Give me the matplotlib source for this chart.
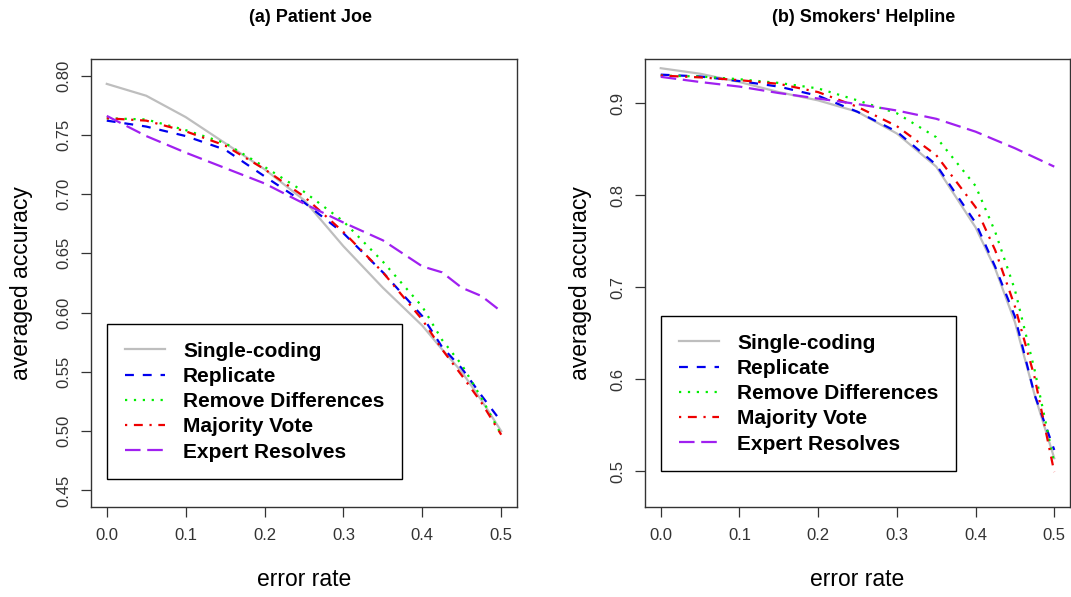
import matplotlib
matplotlib.use("Agg")
import matplotlib.pyplot as plt

plt.rcParams['font.family'] = ['Liberation Sans', 'DejaVu Sans']

error_rate = [0.0, 0.05, 0.10, 0.15, 0.20, 0.25, 0.30, 0.35, 0.40, 0.425, 0.45, 0.475, 0.50]
series_names = ["Single-coding", "Replicate", "Remove Differences", "Majority Vote", "Expert Resolves"]

# (a) Patient Joe
joe_single = [0.793, 0.783, 0.765, 0.743, 0.721, 0.695, 0.656, 0.621, 0.589, 0.569, 0.550, 0.526, 0.500]
joe_replicate = [0.762, 0.757, 0.749, 0.7375, 0.715, 0.693, 0.667, 0.634, 0.597, 0.571, 0.553, 0.530, 0.508]
joe_remove = [0.764, 0.763, 0.754, 0.743, 0.723, 0.702, 0.677, 0.643, 0.605, 0.577, 0.556, 0.528, 0.497]
joe_majority = [0.764, 0.762, 0.753, 0.741, 0.721, 0.698, 0.668, 0.634, 0.594, 0.569, 0.547, 0.524, 0.497]
joe_expert = [0.766, 0.749, 0.735, 0.722, 0.709, 0.692, 0.676, 0.661, 0.639, 0.634, 0.621, 0.614, 0.601]

# (b) Smokers' Helpline
smk_single = [0.938, 0.932, 0.923, 0.912, 0.903, 0.8906, 0.867, 0.831, 0.765, 0.720, 0.662, 0.583, 0.514]
smk_replicate = [0.931, 0.929, 0.924, 0.918, 0.908, 0.8906, 0.869, 0.833, 0.770, 0.722, 0.668, 0.583, 0.523]
smk_remove = [0.930, 0.929, 0.926, 0.922, 0.916, 0.903, 0.889, 0.863, 0.810, 0.760, 0.697, 0.610, 0.509]
smk_majority = [0.930, 0.928, 0.925, 0.921, 0.912, 0.896, 0.875, 0.8435, 0.787, 0.740, 0.679, 0.602, 0.499]
smk_expert = [0.9286, 0.923, 0.918, 0.911, 0.905, 0.899, 0.892, 0.883, 0.869, 0.860, 0.851, 0.841, 0.831]

titles = ["(a) Patient Joe", "(b) Smokers' Helpline"]
x_ticks = [0.0, 0.1, 0.2, 0.3, 0.4, 0.5]
x_ticklabels = ["0.0", "0.1", "0.2", "0.3", "0.4", "0.5"]
joe_yticks = [0.45, 0.50, 0.55, 0.60, 0.65, 0.70, 0.75, 0.80]
joe_yticklabels = ["0.45", "0.50", "0.55", "0.60", "0.65", "0.70", "0.75", "0.80"]
smk_yticks = [0.5, 0.6, 0.7, 0.8, 0.9]
smk_yticklabels = ["0.5", "0.6", "0.7", "0.8", "0.9"]

colors = ["#BEBEBE", "#0000EE", "#00EE00", "#EE0000", "#A020F0"]
dashes = [None, (4, 4), (1, 3), (1, 3, 4, 3), (7, 3)]

W, H = 1071, 597
fig = plt.figure(figsize=(W / 100, H / 100), dpi=100)

panels = [
    dict(left=91, right=517, data=[joe_single, joe_replicate, joe_remove, joe_majority, joe_expert],
         ylim=(0.436, 0.814), yticks=joe_yticks, yticklabels=joe_yticklabels,
         legend=(107, 324), ylabel_x=22),
    dict(left=645, right=1070, data=[smk_single, smk_replicate, smk_remove, smk_majority, smk_expert],
         ylim=(0.461, 0.948), yticks=smk_yticks, yticklabels=smk_yticklabels,
         legend=(661, 316), ylabel_x=580),
]
top, bottom = 59, 507

for i, p in enumerate(panels):
    ax = fig.add_axes([p['left'] / W, 1 - bottom / H, (p['right'] - p['left']) / W, (bottom - top) / H])
    for name, ys, c, d in zip(series_names, p['data'], colors, dashes):
        line, = ax.plot(error_rate, ys, color=c, lw=1.6, label=name)
        if d is not None:
            line.set_dashes(d)
    ax.set_xlim(-0.02, 0.52)
    ax.set_ylim(*p['ylim'])
    ax.set_xticks(x_ticks)
    ax.set_xticklabels(x_ticklabels)
    ax.set_yticks(p['yticks'])
    ax.set_yticklabels(p['yticklabels'], rotation=90, va='center')
    ax.tick_params(axis='both', direction='out', length=7, width=0.9, colors='#333333',
                   labelsize=12, labelcolor='#333333')
    ax.tick_params(axis='x', pad=8)
    ax.tick_params(axis='y', pad=7)
    for s in ax.spines.values():
        s.set_color('#333333')
        s.set_linewidth(1.0)
    ax.set_xlabel("error rate", fontsize=16.5)
    ax.xaxis.set_label_coords(0.5, -(580 - bottom) / (bottom - top))
    ax.xaxis.label.set_va('center')
    ax.set_ylabel("averaged accuracy", fontsize=16.5)
    ax.yaxis.set_label_coords((p['ylabel_x'] - p['left']) / (p['right'] - p['left']), 0.5)
    ax.yaxis.label.set_va('center')
    lx, ly = p['legend']
    leg = ax.legend(loc='upper left', bbox_to_anchor=(lx / W, 1 - ly / H),
                    bbox_transform=fig.transFigure, borderaxespad=0,
                    frameon=True, fancybox=False, edgecolor='black', framealpha=1,
                    prop=dict(weight='bold', size=15), borderpad=0.85,
                    labelspacing=0.3, handlelength=1.95, handletextpad=0.85)
    leg.get_frame().set_linewidth(1.0)
    cx = (p['left'] + p['right']) / 2 / W
    fig.text(cx + 0.006, 1 - 18 / H, titles[i], ha='center', va='center',
             fontsize=13, fontweight='bold',
             family=['Liberation Sans Narrow', 'Liberation Sans', 'DejaVu Sans'])

fig.savefig("out.png", dpi=100)
